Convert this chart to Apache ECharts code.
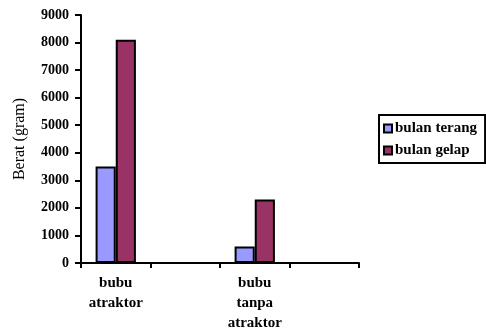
<!DOCTYPE html>
<html>
<head>
<meta charset="utf-8">
<script src="https://cdn.jsdelivr.net/npm/echarts@6/dist/echarts.min.js"></script>
<style>
  html, body { margin: 0; padding: 0; background: #fff; }
  #chart { width: 486px; height: 333px; }
</style>
</head>
<body>
<div id="chart"></div>
<script>
// kategori (slot kosong seperti di grafik asli)
const categories = ['bubu\natraktor', '', 'bubu\ntanpa\natraktor', ''];
const terang = [3500, '-', 600, '-'];
const gelap = [8100, '-', 2300, '-'];
const yTicks = { min: 0, max: 9000, interval: 1000 };

const font = '"Liberation Serif", "Times New Roman", serif';

const chart = echarts.init(document.getElementById('chart'));

const option = {
  animation: false,
  textStyle: { fontFamily: font },
  grid: { left: 81, right: 127, top: 15, bottom: 69 },
  legend: {
    orient: 'vertical',
    left: 379,
    top: 115,
    padding: [6, 8, 5, 4],
    itemWidth: 8,
    itemHeight: 8,
    itemGap: 7,
    borderColor: '#000',
    borderWidth: 2,
    icon: 'rect',
    textStyle: { fontFamily: font, fontWeight: 'bold', fontSize: 15, color: '#000', padding: [0, 0, 0, -2] },
    data: ['bulan terang', 'bulan gelap']
  },
  xAxis: {
    type: 'category',
    data: categories,
    axisLine: { lineStyle: { color: '#000', width: 2 } },
    axisTick: { show: true, length: 5, lineStyle: { color: '#000', width: 2 } },
    axisLabel: {
      color: '#000', fontWeight: 'bold', fontSize: 15, fontFamily: font,
      lineHeight: 20, margin: 10, interval: 0
    }
  },
  yAxis: {
    type: 'value',
    min: yTicks.min,
    max: yTicks.max,
    interval: yTicks.interval,
    name: 'Berat (gram)',
    nameLocation: 'middle',
    nameGap: 53,
    nameTextStyle: { color: '#000', fontSize: 16, fontFamily: font },
    splitLine: { show: false },
    axisLine: { show: true, lineStyle: { color: '#000', width: 2 } },
    axisTick: { show: true, length: 6, lineStyle: { color: '#000', width: 2 } },
    axisLabel: {
      color: '#000', fontWeight: 'bold', fontSize: 14, fontFamily: font, margin: 12,
      formatter: (v) => String(v)
    }
  },
  series: [
    {
      name: 'bulan terang',
      type: 'bar',
      data: terang,
      barGap: '0%',
      barCategoryGap: '42%',
      itemStyle: { color: '#9999FF', borderColor: '#000', borderWidth: 2 }
    },
    {
      name: 'bulan gelap',
      type: 'bar',
      data: gelap,
      itemStyle: { color: '#993366', borderColor: '#000', borderWidth: 2 }
    }
  ]
};

chart.setOption(option);
</script>
</body>
</html>
